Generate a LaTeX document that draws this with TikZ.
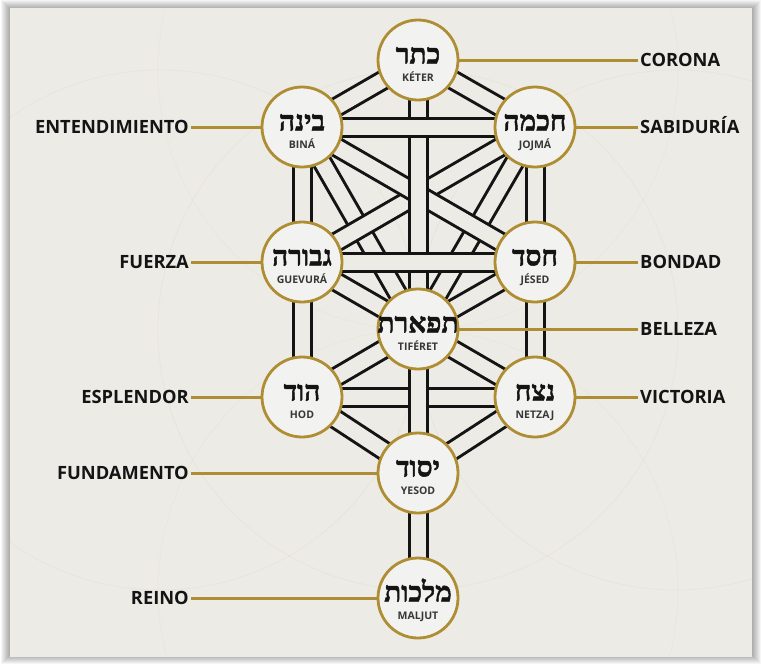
\documentclass[tikz,border=0pt]{standalone}
\usepackage{fontspec}
\usepackage{tikz}
\setmainfont{Open Sans}
\newfontfamily\hebfont[Script=Hebrew, BoldFeatures={FakeBold=1.6}]{Liberation Serif}
\TeXXeTstate=1
\definecolor{oro}{HTML}{AE8D33}
\definecolor{papel}{HTML}{ECEBE6}
\definecolor{disco}{HTML}{F2F2F0}
\definecolor{tinta}{HTML}{141414}
\pgfdeclarelayer{fondo}
\pgfdeclarelayer{canales}
\pgfsetlayers{fondo,canales,main}

% one sefira: circle, hebrew name, transliteration
\newcommand{\sefira}[5]{%
  \node[sefira] (#1) at (#2,#3) {};
  \node[hebreo] (#1-heb) at ([yshift=3pt]#1.center) {\beginR #4\endR};
  \node[translit] (#1-lat) at ([yshift=-18pt]#1.center) {#5};
}

\begin{document}
\begin{tikzpicture}[x=1pt, y=-1pt,
    sefira/.style={circle, draw=oro, line width=2.8pt, fill=disco, minimum size=80pt, inner sep=0pt},
    hebreo/.style={font=\hebfont\bfseries\fontsize{28}{28}\selectfont, text=tinta, inner sep=0pt, text height=13pt, text depth=0pt},
    translit/.style={font=\bfseries\fontsize{10.5}{10.5}\selectfont, text=tinta!85, inner sep=0pt, text height=7.5pt, text depth=0pt},
    canal/.style={draw=tinta, line width=3pt, double=papel, double distance=15pt},
    guia/.style={draw=oro, line width=3pt},
    nombre/.style={font=\bfseries\fontsize{18.3}{18.3}\selectfont, text=tinta, inner sep=2pt, text height=13pt, text depth=0pt}]

    % frame with soft shadow
    \begin{pgfonlayer}{fondo}
        \useasboundingbox (0,0) rectangle (762,665);
        \fill[white] (0,0) rectangle (762,665);
        \foreach \d in {1,...,9}
            \fill[black, opacity=0.04] (\d,\d-1) rectangle (762-\d,665-\d);
        \fill[papel] (10,8) rectangle (752,657);
        \begin{scope}
            \clip (10,8) rectangle (752,657);
            \draw[oro, opacity=0.05, line width=1pt] (418,330) circle (260);
            \draw[oro, opacity=0.05, line width=1pt] (160,330) circle (260);
            \draw[oro, opacity=0.05, line width=1pt] (676,330) circle (260);
            \draw[oro, opacity=0.04, line width=1pt] (418,70) circle (260);
            \draw[oro, opacity=0.04, line width=1pt] (418,590) circle (260);
        \end{scope}
    \end{pgfonlayer}

    % the ten sefirot
    \sefira{keter}{418}{60}{כתר}{KÉTER}
    \sefira{bina}{302}{127}{בינה}{BINÁ}
    \sefira{jojma}{535}{127}{חכמה}{JOJMÁ}
    \sefira{guevura}{302}{262}{גבורה}{GUEVURÁ}
    \sefira{jesed}{535}{262}{חסד}{JÉSED}
    \sefira{tiferet}{418}{329}{תפארת}{TIFÉRET}
    \sefira{hod}{302}{397}{הוד}{HOD}
    \sefira{netzaj}{535}{397}{נצח}{NETZAJ}
    \sefira{yesod}{418}{473}{יסוד}{YESOD}
    \sefira{maljut}{418}{598}{מלכות}{MALJUT}

    % the paths, later ones lie on top
    \begin{pgfonlayer}{canales}
        \draw[canal] (keter.center) -- (bina.center);
        \draw[canal] (keter.center) -- (jojma.center);
        \draw[canal] (bina.center) -- (tiferet.center);
        \draw[canal] (jojma.center) -- (tiferet.center);
        \draw[canal] (guevura.center) -- (tiferet.center);
        \draw[canal] (jesed.center) -- (tiferet.center);
        \draw[canal] (hod.center) -- (tiferet.center);
        \draw[canal] (netzaj.center) -- (tiferet.center);
        \draw[canal] (hod.center) -- (yesod.center);
        \draw[canal] (netzaj.center) -- (yesod.center);
        \draw[canal] (jojma.center) -- (guevura.center);
        \draw[canal] (bina.center) -- (jesed.center);
        \draw[canal] (bina.center) -- (guevura.center);
        \draw[canal] (guevura.center) -- (hod.center);
        \draw[canal] (jojma.center) -- (jesed.center);
        \draw[canal] (jesed.center) -- (netzaj.center);
        \draw[canal] (keter.center) -- (tiferet.center);
        \draw[canal] (bina.center) -- (jojma.center);
        \draw[canal] (guevura.center) -- (jesed.center);
        \draw[canal] (hod.center) -- (netzaj.center);
        \draw[canal] (tiferet.center) -- (yesod.center);
        \draw[canal] (yesod.center) -- (maljut.center);
    \end{pgfonlayer}

    % names and gold leaders
    \node[nombre, anchor=west] (corona) at (638,60) {CORONA};
    \node[nombre, anchor=east] (entendimiento) at (191,127) {ENTENDIMIENTO};
    \node[nombre, anchor=west] (sabiduria) at (638,127) {SABIDURÍA};
    \node[nombre, anchor=east] (fuerza) at (191,262) {FUERZA};
    \node[nombre, anchor=west] (bondad) at (638,262) {BONDAD};
    \node[nombre, anchor=west] (belleza) at (638,329) {BELLEZA};
    \node[nombre, anchor=east] (esplendor) at (191,397) {ESPLENDOR};
    \node[nombre, anchor=west] (victoria) at (638,397) {VICTORIA};
    \node[nombre, anchor=east] (fundamento) at (191,473) {FUNDAMENTO};
    \node[nombre, anchor=east] (reino) at (191,598) {REINO};

    \draw[guia] (corona.west) -- (corona.west -| keter.east);
    \draw[guia] (entendimiento.east) -- (entendimiento.east -| bina.west);
    \draw[guia] (sabiduria.west) -- (sabiduria.west -| jojma.east);
    \draw[guia] (fuerza.east) -- (fuerza.east -| guevura.west);
    \draw[guia] (bondad.west) -- (bondad.west -| jesed.east);
    \draw[guia] (belleza.west) -- (belleza.west -| tiferet.east);
    \draw[guia] (esplendor.east) -- (esplendor.east -| hod.west);
    \draw[guia] (victoria.west) -- (victoria.west -| netzaj.east);
    \draw[guia] (fundamento.east) -- (fundamento.east -| yesod.west);
    \draw[guia] (reino.east) -- (reino.east -| maljut.west);
\end{tikzpicture}
\end{document}
